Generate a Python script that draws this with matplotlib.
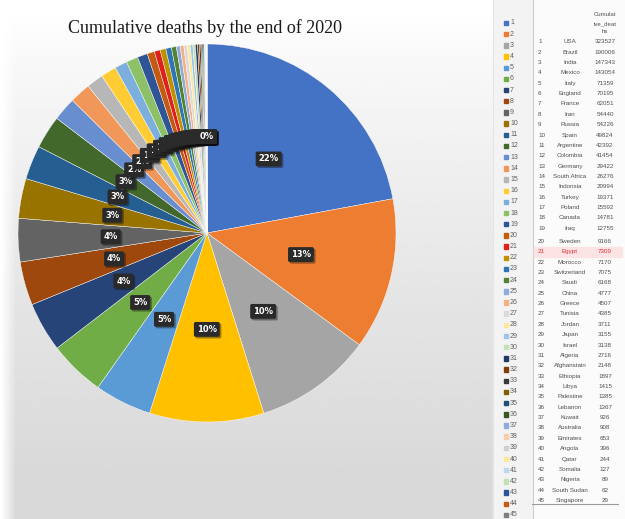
import numpy as np
import matplotlib
matplotlib.use('Agg')
import matplotlib.pyplot as plt
from matplotlib import patheffects

# ---------------------------------------------------------------- data
countries = ['USA', 'Brazil', 'India', 'Mexico', 'Italy', 'England', 'France',
             'Iran', 'Russia', 'Spain', 'Argentine', 'Colombia', 'Germany',
             'South Africa', 'Indonsia', 'Turkey', 'Poland', 'Canada', 'Iraq',
             'Sweden', 'Egypt', 'Morocco', 'Switzeriand', 'Saudi', 'China',
             'Greece', 'Tunisia', 'Jordan', 'Japan', 'Israel', 'Algeria',
             'Afghanstain', 'Ethiopia', 'Libya', 'Palestine', 'Lebanon',
             'Kuwait', 'Australia', 'Emirates', 'Angola', 'Qatar', 'Somalia',
             'Nigeria', 'South Sudan', 'Singapore']
deaths = [323527, 190006, 147343, 143054, 71359, 70195, 62051, 54440, 54226,
          49824, 42392, 41454, 29422, 26276, 20994, 19371, 15592, 14781,
          12755, 9166, 7309, 7170, 7075, 6168, 4777, 4507, 4385, 3711, 3155,
          3138, 2716, 2148, 1897, 1415, 1385, 1367, 926, 908, 653, 396, 244,
          127, 89, 62, 29]
slice_colors = ['#4472C4', '#ED7D31', '#A5A5A5', '#FFC000', '#5B9BD5',
                '#70AD47', '#264478', '#9E480E', '#636363', '#997300',
                '#255E91', '#43682B', '#698ED0', '#F1975A', '#B7B7B7',
                '#FFCD33', '#7CAFDD', '#8CC168', '#2F5597', '#C55A11',
                '#E0201B', '#BF9000', '#2E75B6', '#548235', '#8FAADC',
                '#F4B183', '#DBDBDB', '#FFE699', '#9DC3E6', '#C5E0B4',
                '#203864', '#843C0C', '#3A3A3A', '#7F6000', '#1F4E79',
                '#385723', '#8FAADC', '#F8CBAD', '#D0D0D0', '#FFE699',
                '#BDD7EE', '#C5E0B4', '#2F5597', '#C55A11', '#7F7F7F']
highlight = 'Egypt'

W, H = 625, 519
fig = plt.figure(figsize=(W / 100, H / 100), dpi=100)

# ---------------------------------------------------------------- background
bg = fig.add_axes([0, 0, 1, 1])
bg.set_xlim(0, W)
bg.set_ylim(H, 0)
bg.axis('off')
yy = np.linspace(0, 1, 200)[:, None]
xx = np.linspace(0, 1, 200)[None, :]
shade = 1 - 0.15 * np.clip((yy - 0.02) / 0.9, 0, 1) ** 0.8 * np.clip(xx / 0.03, 0, 1)
bg.imshow(shade, cmap='gray', vmin=0, vmax=1, extent=(0, 493, H, 0),
          aspect='auto', zorder=0)
bg.add_patch(plt.Rectangle((493, 0), 40, H, color='#f3f3f3', zorder=1))
bg.add_patch(plt.Rectangle((533, 0), W - 533, H, color='#fbfbfb', zorder=1))
bg.plot([533, 533], [0, H], color='#cfcfcf', lw=0.8, zorder=2)
bg.plot([493, 493], [0, H], color='#e2e2e2', lw=0.6, zorder=2)

bg.text(205, 28, 'Cumulative deaths by the end of 2020', ha='center',
        va='center', fontsize=13, family='Liberation Serif', color='#1a1a1a')

# ---------------------------------------------------------------- legend
for i, c in enumerate(slice_colors):
    y = 23 + i * 11.18
    bg.add_patch(plt.Rectangle((503.5, y - 2.2), 4.4, 4.4, color=c, zorder=3))
    bg.text(510, y, str(i + 1), ha='left', va='center', fontsize=5,
            family='Liberation Sans', color='#606060', zorder=3)

# ---------------------------------------------------------------- table
for k, line in enumerate(['Cumulat', 'ive_deat', 'hs']):
    bg.text(605, 15 + k * 8.4, line, ha='center', va='center', fontsize=4.3,
            family='Liberation Sans', color='#505050')
for i, (name, val) in enumerate(zip(countries, deaths)):
    y = 41.7 + i * 10.37 + (2.6 if i >= 19 else 0)
    col = '#505050'
    if name == highlight:
        bg.add_patch(plt.Rectangle((534, y - 5), 88, 10, color='#fde4e4',
                                   zorder=2))
        col = '#e03030'
    bg.text(538, y, str(i + 1), ha='left', va='center', fontsize=4.5,
            family='Liberation Sans', color=col, zorder=3)
    bg.text(570, y, name, ha='center', va='center', fontsize=4.5,
            family='Liberation Sans', color=col, zorder=3)
    bg.text(605, y, str(val), ha='center', va='center', fontsize=4.5,
            family='Liberation Sans', color=col, zorder=3)
bg.plot([532, 618], [503.5, 503.5], color='#9a9a9a', lw=0.8)

# ---------------------------------------------------------------- pie
cx, cy, R = 207, 233, 189
ax = fig.add_axes([(cx - R) / W, (H - cy - R) / H, 2 * R / W, 2 * R / H])
wedges, _, autotexts = ax.pie(
    deaths, colors=slice_colors, startangle=90, counterclock=False,
    autopct='%.0f%%', pctdistance=0.51,
    wedgeprops=dict(edgecolor='white', linewidth=0.3),
    textprops=dict(color='white', fontsize=6, fontweight='bold',
                   family='DejaVu Sans'))
for t in autotexts:
    t.set_bbox(dict(boxstyle='round,pad=0.35,rounding_size=0.2',
                    fc='#2a2a2a', ec='none'))
    t.get_bbox_patch().set_path_effects([
        patheffects.SimplePatchShadow(offset=(1.2, -1.2), alpha=0.4),
        patheffects.Normal()])
ax.set_xlim(-1, 1)
ax.set_ylim(-1, 1)
ax.set_aspect('equal')
ax.axis('off')

fig.savefig('out.png', dpi=100)
